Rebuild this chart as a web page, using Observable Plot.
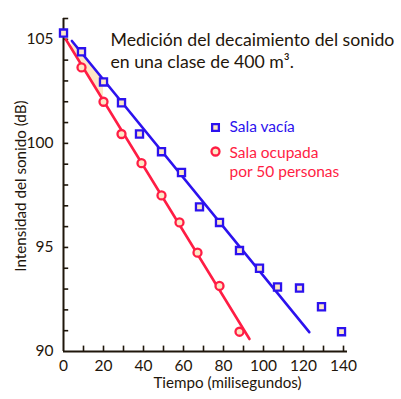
<!DOCTYPE html>
<html>
<head>
<meta charset="utf-8">
<script src="https://cdn.jsdelivr.net/npm/d3@7"></script>
<script src="https://cdn.jsdelivr.net/npm/@observablehq/plot@0.6"></script>
<style>
  html, body { margin: 0; padding: 0; background: #fff; }
  #chart svg { display: block; }
</style>
</head>
<body>
<div id="chart"></div>
<script>
// Data
const blueX = [0, 9, 20, 29, 38, 49, 59, 68, 78, 88, 98, 107, 118, 129, 139];
const blueY = [105.3, 104.4, 102.95, 101.95, 100.45, 99.6, 98.6, 96.95, 96.2, 94.85, 94.0, 93.1, 93.05, 92.15, 90.95];
const redX = [9, 20, 29, 39, 49, 58, 67, 78, 88];
const redY = [103.65, 102.0, 100.45, 99.05, 97.5, 96.2, 94.75, 93.15, 90.95];
const blueFitX = [4.2, 122.9];
const blueFitY = [104.92, 90.93];
const redFitX = [1.2, 93];
const redFitY = [104.99, 90.6];
const shadeX = [4.2, 20];
const shadeRed = [104.52, 102.04];
const shadeBlue = [104.92, 103.06];
const xTickLabels = [0, 20, 40, 60, 80, 100, 120, 140];
const yTickLabels = [90, 95, 100, 105];
const xMinorTicks = [10, 20, 30, 40, 50, 60, 70, 80, 90, 100, 110, 120, 130, 140];
const yMinorTicks = [91, 92, 93, 94, 95, 96, 97, 98, 99, 100, 101, 102, 103, 104, 105, 106];
const titleText = "Medición del decaimiento del sonido\nen una clase de 400 m³.";
const legendLabels = ["Sala vacía", "Sala ocupada\npor 50 personas"];
const xLabel = "Tiempo (milisegundos)";
const yLabel = "Intensidad del sonido (dB)";

const blue = "#2c12ee";
const red = "#ff1d44";
const cream = "#fde7c6";
const ink = "#1f160b";
const font = "Lato, 'Open Sans', sans-serif";

const blueData = blueX.map((x, i) => ({x, y: blueY[i]}));
const redData = redX.map((x, i) => ({x, y: redY[i]}));
const blueFit = blueFitX.map((x, i) => ({x, y: blueFitY[i]}));
const redFit = redFitX.map((x, i) => ({x, y: redFitY[i]}));
const shade = shadeX.map((x, i) => ({x, y1: shadeRed[i], y2: shadeBlue[i]}));

const chart = Plot.plot({
  width: 401,
  height: 399,
  marginLeft: 63,
  marginRight: 54,
  marginTop: 18,
  marginBottom: 48,
  style: {fontFamily: font, color: ink, background: "#fff"},
  x: {domain: [0, 142]},
  y: {domain: [90, 106]},
  marks: [
    Plot.areaY(shade, {x: "x", y1: "y1", y2: "y2", fill: cream}),
    Plot.axisY({ticks: yTickLabels, tickSize: 0, tickPadding: 10, fontSize: 15.5, label: null, fill: ink}),
    Plot.axisX({ticks: xTickLabels, tickSize: 0, tickPadding: 8, fontSize: 15.5, label: null, fill: ink}),
    Plot.ruleY(yMinorTicks, {x1: 0, x2: 2.6, stroke: ink, strokeWidth: 1.6}),
    Plot.ruleX(xMinorTicks, {y1: 90, y2: 90.26, stroke: ink, strokeWidth: 1.6}),
    Plot.ruleX([0], {y1: 90, y2: 106, stroke: ink, strokeWidth: 2}),
    Plot.ruleY([90], {x1: 0, x2: 142, stroke: ink, strokeWidth: 2}),
    Plot.line(redFit, {x: "x", y: "y", stroke: red, strokeWidth: 2.6}),
    Plot.line(blueFit, {x: "x", y: "y", stroke: blue, strokeWidth: 2.6}),
    Plot.dot(redData, {x: "x", y: "y", r: 4, symbol: "circle", stroke: red, strokeWidth: 2.3, fill: cream}),
    Plot.dot(blueData, {x: "x", y: "y", r: 4, symbol: "square", stroke: blue, strokeWidth: 2.3, fill: cream}),
    // title
    Plot.text([titleText], {frameAnchor: "top-left", dx: 47, dy: 31, text: d => d, textAnchor: "start", lineAnchor: "middle", lineHeight: 1.25, fontSize: 17.7, fill: ink}),
    // legend
    Plot.dot([legendLabels[0]], {frameAnchor: "top-left", dx: 152, dy: 109, r: 3.8, symbol: "square", stroke: blue, strokeWidth: 2.3, fill: cream}),
    Plot.text([legendLabels[0]], {frameAnchor: "top-left", dx: 166, dy: 109, text: d => d, textAnchor: "start", lineAnchor: "middle", fontSize: 15.5, fill: blue}),
    Plot.dot([legendLabels[1]], {frameAnchor: "top-left", dx: 152, dy: 133, r: 4, symbol: "circle", stroke: red, strokeWidth: 2.3, fill: cream}),
    Plot.text([legendLabels[1]], {frameAnchor: "top-left", dx: 166, dy: 142.5, text: d => d, textAnchor: "start", lineAnchor: "middle", lineHeight: 1.23, fontSize: 15.5, fill: red}),
    // axis labels
    Plot.text([xLabel], {frameAnchor: "bottom-left", dx: 164, dy: 32, text: d => d, textAnchor: "middle", lineAnchor: "middle", fontSize: 15.2, fill: ink}),
    Plot.text([yLabel], {frameAnchor: "left", dx: -42, dy: 1, rotate: -90, text: d => d, textAnchor: "middle", lineAnchor: "middle", fontSize: 15.2, fill: ink})
  ]
});
document.getElementById("chart").appendChild(chart);
</script>
</body>
</html>
